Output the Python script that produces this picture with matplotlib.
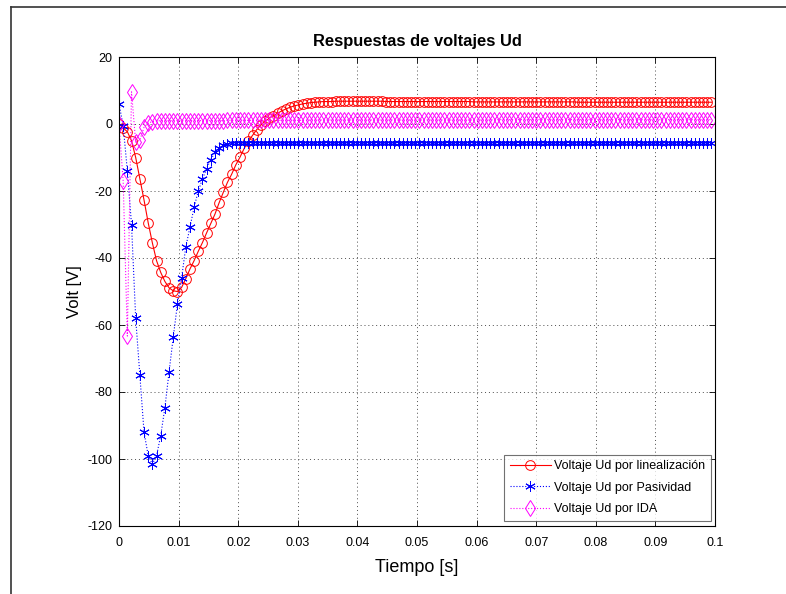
import numpy as np
import matplotlib
matplotlib.use("Agg")
import matplotlib.pyplot as plt
from matplotlib.lines import Line2D

# tiempo de simulacion [ms]
t_ms = [0.0, 0.7, 1.4, 2.1, 2.8, 3.5, 4.2, 4.9, 5.6, 6.3,
        7.0, 7.7, 8.4, 9.1, 9.8, 10.5, 11.2, 11.9, 12.6, 13.3,
        14.0, 14.7, 15.4, 16.1, 16.8, 17.5, 18.2, 18.9, 19.6, 20.3,
        21.0, 21.7, 22.4, 23.1, 23.8, 24.5, 25.2, 25.9, 26.6, 27.3,
        28.0, 28.7, 29.4, 30.1, 30.8, 31.5, 32.2, 32.9, 33.6, 34.3,
        35.0, 35.7, 36.4, 37.1, 37.8, 38.5, 39.2, 39.9, 40.6, 41.3,
        42.0, 42.7, 43.4, 44.1, 44.8, 45.5, 46.2, 46.9, 47.6, 48.3,
        49.0, 49.7, 50.4, 51.1, 51.8, 52.5, 53.2, 53.9, 54.6, 55.3,
        56.0, 56.7, 57.4, 58.1, 58.8, 59.5, 60.2, 60.9, 61.6, 62.3,
        63.0, 63.7, 64.4, 65.1, 65.8, 66.5, 67.2, 67.9, 68.6, 69.3,
        70.0, 70.7, 71.4, 72.1, 72.8, 73.5, 74.2, 74.9, 75.6, 76.3,
        77.0, 77.7, 78.4, 79.1, 79.8, 80.5, 81.2, 81.9, 82.6, 83.3,
        84.0, 84.7, 85.4, 86.1, 86.8, 87.5, 88.2, 88.9, 89.6, 90.3,
        91.0, 91.7, 92.4, 93.1, 93.8, 94.5, 95.2, 95.9, 96.6, 97.3,
        98.0, 98.7, 99.4]

# Voltaje Ud por linealizacion
ud_lin = [0.0, -1.2, -2.3, -5.0, -10.0, -16.4, -22.7, -29.5, -35.5, -40.8,
          -44.3, -47.0, -48.9, -49.8, -50.0, -48.8, -46.2, -43.3, -40.8, -38.0,
          -35.4, -32.5, -29.7, -26.9, -23.5, -20.4, -17.4, -15.0, -12.2, -9.9,
          -7.3, -5.2, -3.4, -1.7, -0.3, 0.8, 1.7, 2.5, 3.2, 3.9,
          4.5, 5.0, 5.4, 5.7, 6.0, 6.2, 6.4, 6.5, 6.6, 6.7,
          6.7, 6.7, 6.8, 6.8, 6.8, 6.8, 6.8, 6.8, 6.8, 6.8,
          6.8, 6.8, 6.8, 6.8, 6.7, 6.7, 6.7, 6.7, 6.7, 6.7,
          6.7, 6.7, 6.7, 6.7, 6.7, 6.7, 6.7, 6.7, 6.7, 6.7,
          6.7, 6.7, 6.7, 6.7, 6.7, 6.6, 6.6, 6.6, 6.6, 6.6,
          6.6, 6.6, 6.6, 6.6, 6.6, 6.6, 6.6, 6.6, 6.6, 6.6,
          6.6, 6.6, 6.6, 6.6, 6.6, 6.6, 6.6, 6.6, 6.6, 6.6,
          6.5, 6.5, 6.5, 6.5, 6.5, 6.5, 6.5, 6.5, 6.5, 6.5,
          6.5, 6.5, 6.5, 6.5, 6.5, 6.5, 6.5, 6.5, 6.5, 6.5,
          6.5, 6.5, 6.5, 6.5, 6.5, 6.5, 6.5, 6.5, 6.5, 6.5,
          6.5, 6.5, 6.5]

# Voltaje Ud por Pasividad
ud_pas = [6.0, -0.5, -14.0, -30.0, -58.0, -75.0, -92.0, -99.0, -101.5, -99.0,
          -93.0, -84.7, -74.0, -63.7, -53.8, -46.0, -36.8, -30.8, -24.9, -20.0,
          -16.4, -13.3, -10.6, -8.5, -7.3, -6.4, -5.9, -5.7, -5.6, -5.6,
          -5.6, -5.7, -5.7, -5.7, -5.6, -5.7, -5.7, -5.7, -5.8, -5.7,
          -5.7, -5.7, -5.7, -5.7, -5.8, -5.7, -5.7, -5.7, -5.7, -5.7,
          -5.7, -5.7, -5.8, -5.7, -5.7, -5.7, -5.7, -5.7, -5.7, -5.7,
          -5.7, -5.7, -5.7, -5.8, -5.7, -5.7, -5.7, -5.7, -5.7, -5.7,
          -5.7, -5.7, -5.7, -5.7, -5.7, -5.7, -5.8, -5.7, -5.7, -5.7,
          -5.7, -5.7, -5.7, -5.7, -5.7, -5.7, -5.7, -5.7, -5.7, -5.7,
          -5.7, -5.7, -5.7, -5.7, -5.7, -5.7, -5.7, -5.7, -5.7, -5.7,
          -5.7, -5.7, -5.7, -5.7, -5.7, -5.7, -5.7, -5.7, -5.7, -5.7,
          -5.7, -5.7, -5.7, -5.7, -5.7, -5.7, -5.7, -5.7, -5.7, -5.7,
          -5.7, -5.7, -5.7, -5.7, -5.7, -5.7, -5.7, -5.7, -5.7, -5.7,
          -5.7, -5.7, -5.7, -5.7, -5.7, -5.7, -5.7, -5.7, -5.7, -5.7,
          -5.7, -5.7, -5.7]

# Voltaje Ud por IDA
ud_ida = [0.0, -17.0, -63.3, 9.6, -5.4, -4.8, -1.0, 0.3, 0.7, 0.9,
          1.0, 1.0, 1.0, 1.0, 1.0, 1.0, 1.0, 1.0, 1.0, 1.0,
          1.0, 1.0, 1.0, 1.0, 1.0, 1.0, 1.1, 1.1, 1.1, 1.1,
          1.1, 1.1, 1.1, 1.1, 1.1, 1.1, 1.1, 1.1, 1.1, 1.1,
          1.1, 1.1, 1.1, 1.1, 1.1, 1.1, 1.2, 1.2, 1.2, 1.2,
          1.2, 1.2, 1.2, 1.2, 1.2, 1.2, 1.2, 1.2, 1.2, 1.2,
          1.2, 1.2, 1.2, 1.2, 1.2, 1.2, 1.2, 1.2, 1.2, 1.2,
          1.2, 1.2, 1.2, 1.2, 1.2, 1.2, 1.2, 1.2, 1.2, 1.2,
          1.2, 1.2, 1.2, 1.2, 1.2, 1.2, 1.2, 1.2, 1.2, 1.2,
          1.3, 1.3, 1.3, 1.3, 1.3, 1.3, 1.3, 1.3, 1.3, 1.3,
          1.3, 1.3, 1.3, 1.3, 1.3, 1.3, 1.3, 1.3, 1.3, 1.3,
          1.3, 1.3, 1.3, 1.3, 1.3, 1.3, 1.3, 1.3, 1.3, 1.3,
          1.3, 1.3, 1.3, 1.3, 1.3, 1.3, 1.3, 1.3, 1.3, 1.3,
          1.3, 1.3, 1.3, 1.3, 1.3, 1.3, 1.3, 1.3, 1.3, 1.3,
          1.3, 1.3, 1.3]

x_ticks = [0, 0.01, 0.02, 0.03, 0.04, 0.05, 0.06, 0.07, 0.08, 0.09, 0.1]
x_labels = ['0', '0.01', '0.02', '0.03', '0.04', '0.05', '0.06', '0.07', '0.08', '0.09', '0.1']
y_ticks = [-120, -100, -80, -60, -40, -20, 0, 20]

leyenda = ['Voltaje Ud por linealización', 'Voltaje Ud por Pasividad', 'Voltaje Ud por IDA']

t = np.array(t_ms) / 1000.0

plt.rcParams['font.family'] = ['Liberation Sans', 'DejaVu Sans']

fig = plt.figure(figsize=(7.86, 5.94), dpi=100)
fig.patch.set_facecolor('white')
ax = fig.add_axes([119/786, 68/594, 596/786, 469/594])

ax.plot(t, ud_lin, color='#ff0000', linewidth=0.8, marker='o', markersize=7,
        markerfacecolor='none', markeredgewidth=0.7, label=leyenda[0])
ax.plot(t, ud_pas, color='#0000ff', linewidth=0.8, linestyle=':', marker=(6, 2, 0),
        markersize=7.5, markeredgewidth=0.7, label=leyenda[1])
ax.plot(t, ud_ida, color='#ff00ff', linewidth=0.8, linestyle=':', marker='d', markersize=8,
        markerfacecolor='none', markeredgewidth=0.7, label=leyenda[2])

ax.set_xlim(0, 0.1)
ax.set_ylim(-120, 20)
ax.set_xticks(x_ticks)
ax.set_xticklabels(x_labels, fontsize=9)
ax.set_yticks(y_ticks)
ax.set_yticklabels([str(v) for v in y_ticks], fontsize=9)
ax.tick_params(axis='x', direction='in', top=True, length=4, width=0.6, pad=8)
ax.tick_params(axis='y', direction='in', right=True, length=4, width=0.6, pad=5)
ax.grid(True, color='0.3', linestyle=(0, (1, 3)), linewidth=0.7)
for s in ax.spines.values():
    s.set_linewidth(0.8)

ax.set_title('Respuestas de voltajes Ud', fontsize=11.9, fontweight='bold', pad=8)
ax.set_xlabel('Tiempo [s]', fontsize=13, labelpad=7)
ax.set_ylabel('Volt [V]', fontsize=12, labelpad=4)

leg = ax.legend(loc='lower right', bbox_to_anchor=(0.993, 0.011), borderaxespad=0,
                fontsize=9, frameon=True, fancybox=False, handlelength=3.3,
                labelspacing=0.75, borderpad=0.45, handletextpad=0.25)
leg.get_frame().set_edgecolor('0.3')
leg.get_frame().set_linewidth(0.8)

# marco de la captura
fig.add_artist(Line2D([11/786, 1], [587/594, 587/594], color='0.2', linewidth=1.2))
fig.add_artist(Line2D([11/786, 11/786], [0, 587/594], color='0.2', linewidth=1.2))

plt.savefig('out.png', dpi=100, facecolor='white')
